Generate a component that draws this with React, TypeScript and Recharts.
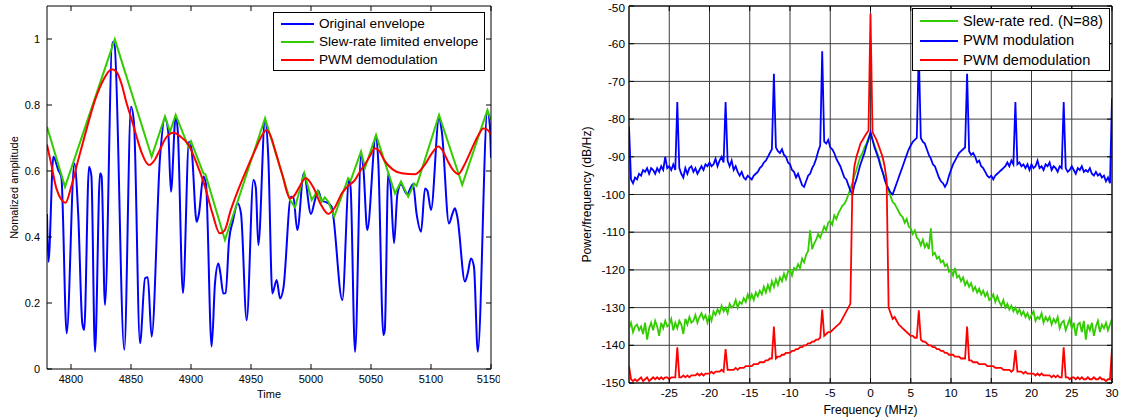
import { CartesianGrid, Legend, Line, LineChart, XAxis, YAxis } from 'recharts'

const FONT = '"Liberation Sans", Arial, sans-serif'
const BLUE = '#0000ff'
const GREEN = '#33cc00'
const RED = '#ff0000'

// ---- left panel: envelopes in time ----
const blueTime = [
  4780, 4781.2, 4785.3, 4789.4, 4792, 4796.4, 4802.8, 4806, 4809.4, 4811, 4815, 4817, 4820, 4824.2, 4825.5,
  4828.3, 4834.5, 4836.2, 4844.4, 4850, 4852.5, 4857.5, 4861.7, 4864, 4867.2, 4874.2, 4878.3, 4881, 4883.3,
  4887.2, 4889, 4893.3, 4898.3, 4900.5, 4904.7, 4906.6, 4910.3, 4912.5, 4917.2, 4920, 4922.8, 4924.5, 4926.9,
  4928.9, 4931.7, 4935, 4938.9, 4941.7, 4946.4, 4952, 4954, 4956.1, 4961.7, 4964.4, 4967.8, 4971.4, 4974.2,
  4977, 4983.3, 4985.3, 4988.6, 4994, 5000, 5003.3, 5006, 5009, 5013, 5017.2, 5026.1, 5031.7, 5033, 5036.7,
  5041.7, 5043.6, 5046.9, 5054, 5056, 5060.3, 5061.5, 5064.4, 5066.4, 5069.2, 5072, 5075, 5080, 5085, 5088,
  5091.7, 5095, 5097, 5100, 5106.7, 5109, 5115, 5117.8, 5120, 5122, 5128.3, 5130.6, 5133.3, 5135.8, 5139,
  5147, 5149, 5150,
]
const blueAmp = [
  0.47, 0.325, 0.643, 0.603, 0.58, 0.108, 0.623, 0.47, 0.139, 0.118, 0.613, 0.585, 0.052, 0.593, 0.585,
  0.194, 0.99, 0.985, 0.058, 0.795, 0.745, 0.078, 0.275, 0.278, 0.098, 0.643, 0.76, 0.72, 0.537,
  0.765, 0.72, 0.23, 0.689, 0.665, 0.446, 0.47, 0.583, 0.56, 0.068, 0.26, 0.32, 0.29, 0.229,
  0.23, 0.39, 0.45, 0.502, 0.47, 0.148, 0.573, 0.55, 0.376, 0.755, 0.643, 0.229, 0.27, 0.214,
  0.245, 0.522, 0.52, 0.421, 0.593, 0.47, 0.512, 0.54, 0.51, 0.505, 0.492, 0.209, 0.573, 0.55, 0.052,
  0.648, 0.61, 0.421, 0.704, 0.633, 0.103, 0.118, 0.593, 0.55, 0.381, 0.53, 0.56, 0.53, 0.56, 0.47,
  0.416, 0.547, 0.54, 0.482, 0.76, 0.72, 0.441, 0.47, 0.487, 0.46, 0.265, 0.29, 0.335, 0.31, 0.052,
  0.78, 0.74, 0.64,
]

const greenTime = [
  4780, 4795, 4836.5, 4867.2, 4878.3, 4882.5, 4887.2, 4897.8, 4900, 4910.3, 4912, 4928.3, 4961.7, 4982.5,
  4986.7, 4994.4, 5000.6, 5005.5, 5008.9, 5011.5, 5014.4, 5019.4, 5031, 5033, 5041.7, 5045, 5054.2, 5070,
  5075, 5081, 5086, 5088, 5106.7, 5126, 5147, 5150,
]
const greenAmp = [
  0.734, 0.552, 0.999, 0.643, 0.765, 0.719, 0.77, 0.674, 0.69, 0.593, 0.59, 0.391, 0.76, 0.512,
  0.49, 0.593, 0.512, 0.54, 0.507, 0.52, 0.507, 0.462, 0.578, 0.57, 0.659, 0.61, 0.709, 0.532,
  0.568, 0.522, 0.562, 0.555, 0.77, 0.558, 0.785, 0.755,
]

const redTime = [
  4780, 4783, 4788, 4795.5, 4800, 4806, 4812, 4820, 4827, 4834, 4838, 4842, 4846, 4850.6, 4855, 4859, 4865,
  4870, 4874, 4879, 4885.3, 4891, 4897.8, 4904, 4911.7, 4918, 4924, 4928, 4933, 4939, 4945, 4953, 4958,
  4963, 4967, 4970, 4976, 4982.5, 4986, 4990, 4995.6, 5002, 5008, 5014.4, 5020, 5025.6, 5031, 5036.7,
  5041, 5045, 5049, 5053.3, 5057, 5061, 5068, 5075.6, 5086.7, 5095, 5101, 5106, 5110, 5114, 5118, 5122.8,
  5128, 5133.6, 5139, 5143.6, 5147, 5150,
]
const redAmp = [
  0.68, 0.63, 0.545, 0.504, 0.55, 0.633, 0.714, 0.815, 0.876, 0.908, 0.9, 0.865, 0.81, 0.755, 0.7, 0.654, 0.618,
  0.635, 0.664, 0.7, 0.716, 0.705, 0.68, 0.63, 0.552, 0.47, 0.411, 0.42, 0.48, 0.54, 0.593, 0.66, 0.7,
  0.724, 0.7, 0.664, 0.59, 0.517, 0.525, 0.55, 0.578, 0.55, 0.5, 0.47, 0.49, 0.532, 0.555, 0.573,
  0.6, 0.62, 0.645, 0.669, 0.66, 0.633, 0.605, 0.593, 0.59, 0.62, 0.655, 0.674, 0.66, 0.63, 0.605, 0.591,
  0.62, 0.664, 0.705, 0.729, 0.725, 0.71,
]

const timeTicks = [4800, 4850, 4900, 4950, 5000, 5050, 5100, 5150]
const ampTicks = [0, 0.2, 0.4, 0.6, 0.8, 1]

// ---- right panel: spectra, sampled every 0.25 MHz from -30 to 30 ----
const freqMHz = Array.from({ length: 241 }, (_, i) => -30 + i * 0.25)

const slewDb = [
  -135.5, -134, -136.5, -135, -134.5, -136, -135, -137, -134, -138.5, -135.5, -134, -136, -133.5, -135, -137.5,
  -134, -135.5, -133.5, -135, -134.5, -133, -136, -134, -135.5, -133.5, -134.5, -137, -133, -134.5, -132.5, -134,
  -133.5, -132, -134, -132.5, -131.5, -133, -132, -134, -132, -133.5, -131, -132, -130.5, -131.5, -129.5, -131,
  -130, -131.5, -129, -130, -129.5, -128, -130, -128.5, -129, -127.5, -128.5, -126.5, -128, -126.5, -128, -126,
  -127, -125.5, -126.5, -124.5, -126, -124, -125.5, -123, -124.5, -122.5, -124, -122, -123, -121, -122.5, -120.5,
  -120, -121.5, -119.5, -120, -118.5, -119.5, -117, -118, -116, -115, -109.5, -114.5, -113, -112, -110.5, -111.5,
  -110, -108.5, -109.5, -107.5, -107, -108, -105.5, -106.5, -105, -104, -103, -102.5, -101.5, -100, -98.5, -97,
  -95, -93.5, -91.5, -90, -89, -87.5, -86.5, -85, -83.8, -85.5, -87, -88.5, -90, -92, -94, -95.5,
  -97, -99, -100.5, -102, -102.5, -103.5, -104.5, -105.5, -106, -107.5, -106.5, -108.5, -109, -110.5, -109.5, -111.5,
  -112, -113.5, -112, -114, -113, -114.5, -109, -116, -115.5, -117, -116.5, -118, -117.5, -119, -118.5, -120.5,
  -120, -121.5, -119.5, -122, -121.5, -123, -122, -124, -123, -124.5, -123.5, -125.5, -124.5, -126, -125, -126.5,
  -125.5, -127, -126, -128, -127.5, -126.5, -128.5, -127, -128.5, -129.5, -128, -130, -129, -130.5, -129.5, -131,
  -130, -131.5, -130.5, -132, -131, -132.5, -131.5, -133, -132, -131, -133.5, -132.5, -133, -131.5, -134, -132.5,
  -133.5, -132.5, -134.5, -133, -134, -132.5, -135.5, -134, -133.5, -136, -134.5, -133, -135.5, -134, -137.5, -134.5,
  -134, -136.5, -133.5, -138.5, -134.5, -136, -134, -137.5, -135, -133.5, -136.5, -134.5, -135.5, -134, -136, -134.5,
  -133,
]

const pwmDb = [
  -82, -96, -97, -95.5, -96, -94.5, -95, -93.5, -94, -93, -94.5, -93, -93.5, -94.5, -93, -94,
  -92.5, -93.5, -90, -93, -92.5, -93.5, -92, -93.5, -75.5, -93, -94.5, -95.5, -93, -94.5, -93, -92.5,
  -94, -93, -94.5, -93.5, -92.5, -93.5, -92, -92.5, -91.5, -92.5, -92, -90.5, -92.5, -91, -90, -91.5,
  -75.5, -91, -92.5, -91, -93.5, -92.5, -94, -95, -94, -95.5, -96, -95, -95.5, -96, -95, -94.5,
  -94, -93, -92.5, -91.5, -91, -90, -89, -88, -68, -87.5, -88.5, -89, -88, -89.5, -90, -91.5,
  -92, -93.5, -94, -95.5, -94.5, -96, -97.5, -98, -96.5, -95, -94.5, -93, -92, -90.5, -88.5, -87,
  -62, -86, -86.5, -85.5, -87.5, -88, -89, -90.5, -91.5, -92.5, -94, -95.5, -96, -97.5, -99, -100,
  -97.5, -96, -94, -92, -90.5, -89, -87, -85.5, -83.5, -85.5, -87.5, -89, -90.5, -92.5, -94, -96,
  -97.5, -98.5, -99.5, -100, -98.5, -97, -95.5, -94, -92.5, -91, -89.5, -88, -87, -86, -85.5, -85,
  -62, -85, -86, -86.5, -88, -89.5, -90.5, -92, -92.5, -94, -95.5, -96.5, -97, -98, -97, -95,
  -93.5, -92, -91, -90, -89, -88.5, -88, -87.5, -68, -88.5, -89.5, -89, -90, -91.5, -91, -92.5,
  -93, -94, -95, -95.5, -95, -96, -95, -94.5, -94, -93.5, -93, -92.5, -91.5, -92.5, -91, -92,
  -75.5, -92, -91.5, -92.5, -92, -93, -92, -93.5, -92, -93, -92.5, -91, -93, -92.5, -93.5, -92,
  -92.5, -91.5, -93.5, -92.5, -93, -94, -92.5, -93, -75.5, -93, -94, -93.5, -92.5, -93.5, -94.5, -93,
  -93.5, -92.5, -94, -93.5, -94, -93, -94.5, -95, -94, -95, -94.5, -95.5, -95, -96.5, -95.5, -97,
  -74.5,
]

const demodDb = [
  -145.5, -149, -149.5, -149, -149.5, -149, -148.5, -149.5, -149, -148.5, -149.5, -149, -148.5, -149, -148.5, -149,
  -148.5, -149, -148.5, -148.5, -149, -148.5, -148.5, -148.5, -140.5, -148.5, -148.5, -148, -148.5, -148, -148.5, -148,
  -148, -148, -147.5, -148, -147.5, -148, -147.5, -147.5, -147.5, -147, -147.5, -147, -147, -147, -146.5, -147,
  -141, -146.5, -146.5, -146.5, -146.5, -146, -146.5, -146, -146, -146, -145.5, -145.5, -145.5, -145.5, -145, -145,
  -145, -144.5, -144.5, -144.5, -144, -144, -143.5, -143.5, -135, -143.5, -143, -143, -142.5, -142.5, -142, -142,
  -142, -141.5, -141.5, -141, -141, -140.5, -140.5, -140, -140, -139.5, -139.5, -139, -139, -138.5, -138.5, -138,
  -130.5, -137.5, -137, -136.5, -136.5, -136, -135.5, -135, -134.5, -134, -133, -132, -131, -130, -129, -98,
  -92.5, -90, -88.3, -86.5, -85.6, -84.7, -83.8, -83, -52, -83.5, -84.5, -85.5, -87, -88.5, -90, -92.5,
  -96, -130, -131.5, -133, -132.5, -133.5, -134.5, -135, -135.5, -136, -136.5, -137, -137.5, -137.5, -138, -138,
  -130.7, -138.5, -139, -139, -139.5, -140, -140, -140.5, -140.5, -141, -141, -141.5, -141.5, -142, -142, -142.5,
  -142.5, -142.5, -143, -143, -143, -143.5, -143.5, -143.5, -135, -144, -144, -144.5, -144.5, -144.5, -145, -145,
  -145, -145, -145.5, -145.5, -145.5, -145.5, -146, -146, -146, -146, -146.5, -146.5, -146.5, -146.5, -147, -146.5,
  -141.3, -147, -147, -147, -147.5, -147, -147.5, -147.5, -147.5, -147.5, -148, -147.5, -148, -147.5, -148, -148,
  -148, -148, -148.5, -148, -148.5, -148, -148.5, -148.5, -140.5, -148.5, -148.5, -149, -148.5, -148.5, -149, -148.5,
  -149, -148.5, -149, -149, -148.5, -149, -149, -148.5, -149, -149, -148.5, -149, -149, -149.5, -149, -149,
  -140.8,
]

const freqTicks = [-25, -20, -15, -10, -5, 0, 5, 10, 15, 20, 25, 30]
const dbTicks = [-150, -140, -130, -120, -110, -100, -90, -80, -70, -60, -50]

const blueData = blueTime.map((t, i) => ({ t, v: blueAmp[i] }))
const greenData = greenTime.map((t, i) => ({ t, v: greenAmp[i] }))
const redData = redTime.map((t, i) => ({ t, v: redAmp[i] }))
const spectrum = freqMHz.map((f, i) => ({ f, slew: slewDb[i], pwm: pwmDb[i], demod: demodDb[i] }))

const black = { stroke: '#000', strokeWidth: 1 }
const blank = () => ''

interface LegendItem {
  label: string
  color: string
}

function LegendBox({ items, rowH, padTop, lineLeft, lineLen, gap, fontSize }: {
  items: LegendItem[]; rowH: number; padTop: number; lineLeft: number; lineLen: number; gap: number; fontSize: number
}) {
  return (
    <div style={{ width: '100%', height: '100%', boxSizing: 'border-box', border: '1px solid #000', background: '#fff', paddingTop: padTop, fontFamily: FONT }}>
      {items.map((it) => (
        <div key={it.label} style={{ height: rowH, display: 'flex', alignItems: 'center', paddingLeft: lineLeft }}>
          <div style={{ width: lineLen, height: 2, background: it.color, marginRight: gap }} />
          <span style={{ fontSize, color: '#000', whiteSpace: 'nowrap', lineHeight: 1 }}>{it.label}</span>
        </div>
      ))}
    </div>
  )
}

const leftLegend: LegendItem[] = [
  { label: 'Original envelope', color: BLUE },
  { label: 'Slew-rate limited envelope', color: GREEN },
  { label: 'PWM demodulation', color: RED },
]
const rightLegend: LegendItem[] = [
  { label: 'Slew-rate red. (N=88)', color: GREEN },
  { label: 'PWM modulation', color: BLUE },
  { label: 'PWM demodulation', color: RED },
]

function EnvelopeChart() {
  const tick = { fontSize: 11, fill: '#000', fontFamily: FONT }
  const label = { fontSize: 11, fill: '#000', fontFamily: FONT }
  return (
    <LineChart width={500} height={400} margin={{ top: 0, right: 0, bottom: 0, left: 0 }}>
      <XAxis type="number" dataKey="t" domain={[4780, 5150]} ticks={timeTicks} allowDataOverflow height={31}
        tickSize={-5} tickMargin={11} tick={tick} axisLine={black} tickLine={black}
        label={{ value: 'Time', position: 'insideBottom', offset: 2, style: label }} />
      <XAxis xAxisId="top" orientation="top" type="number" dataKey="t" domain={[4780, 5150]} ticks={timeTicks}
        allowDataOverflow height={6} tickSize={-5} tickFormatter={blank} axisLine={black} tickLine={black} />
      <YAxis type="number" domain={[0, 1.1]} ticks={ampTicks} allowDataOverflow width={47}
        tickSize={-5} tickMargin={12} tick={tick} axisLine={black} tickLine={black}
        label={{ value: 'Nomalized amplitude', angle: -90, position: 'insideLeft', offset: 14, style: { ...label, textAnchor: 'middle' } }} />
      <YAxis yAxisId="right" orientation="right" type="number" domain={[0, 1.1]} ticks={ampTicks} allowDataOverflow
        width={9} tickSize={-5} tickFormatter={blank} axisLine={black} tickLine={black} />
      <Legend layout="horizontal" verticalAlign="middle" align="center"
        wrapperStyle={{ left: 273, top: 12, width: 212, height: 59 }}
        content={() => <LegendBox items={leftLegend} rowH={18} padTop={2} lineLeft={7} lineLen={33} gap={5} fontSize={13.6} />} />
      <Line data={blueData} dataKey="v" name="Original envelope" type="monotone" stroke={BLUE} strokeWidth={2} dot={false} activeDot={false} isAnimationActive={false} />
      <Line data={greenData} dataKey="v" name="Slew-rate limited envelope" type="linear" stroke={GREEN} strokeWidth={2} dot={false} activeDot={false} isAnimationActive={false} />
      <Line data={redData} dataKey="v" name="PWM demodulation" type="monotone" stroke={RED} strokeWidth={2} dot={false} activeDot={false} isAnimationActive={false} />
    </LineChart>
  )
}

function SpectrumChart() {
  const tick = { fontSize: 11.8, fill: '#000', fontFamily: FONT }
  const label = { fontSize: 12.2, fill: '#000', fontFamily: FONT }
  return (
    <LineChart width={562} height={419} data={spectrum} margin={{ top: 0, right: 0, bottom: 0, left: 0 }}>
      <CartesianGrid stroke="#3c3c3c" strokeWidth={1} />
      <XAxis type="number" dataKey="f" domain={[-30, 30]} ticks={freqTicks} allowDataOverflow height={36}
        tickSize={-5} tickMargin={11} tick={tick} axisLine={black} tickLine={black}
        label={{ value: 'Frequency (MHz)', position: 'insideBottom', offset: 5, style: label }} />
      <XAxis xAxisId="top" orientation="top" type="number" dataKey="f" domain={[-30, 30]} ticks={freqTicks}
        allowDataOverflow height={6} tickSize={-5} tickFormatter={blank} axisLine={black} tickLine={black} />
      <YAxis type="number" domain={[-150, -50]} ticks={dbTicks} allowDataOverflow width={69}
        tickSize={-5} tickMargin={9} tick={tick} axisLine={black} tickLine={black}
        label={{ value: 'Power/frequency (dB/Hz)', angle: -90, position: 'insideLeft', offset: 27, style: { ...label, textAnchor: 'middle' } }} />
      <YAxis yAxisId="right" orientation="right" type="number" domain={[-150, -50]} ticks={dbTicks} allowDataOverflow
        width={10} tickSize={-5} tickFormatter={blank} axisLine={black} tickLine={black} />
      <Legend layout="horizontal" verticalAlign="middle" align="center"
        wrapperStyle={{ left: 352, top: 8, width: 198, height: 63 }}
        content={() => <LegendBox items={rightLegend} rowH={19.7} padTop={2} lineLeft={7} lineLen={38} gap={5} fontSize={14.6} />} />
      <Line dataKey="slew" name="Slew-rate red. (N=88)" type="linear" stroke={GREEN} strokeWidth={1.8} dot={false} activeDot={false} isAnimationActive={false} />
      <Line dataKey="pwm" name="PWM modulation" type="linear" stroke={BLUE} strokeWidth={1.8} dot={false} activeDot={false} isAnimationActive={false} />
      <Line dataKey="demod" name="PWM demodulation" type="linear" stroke={RED} strokeWidth={1.8} dot={false} activeDot={false} isAnimationActive={false} />
    </LineChart>
  )
}

export default function App() {
  return (
    <div style={{ position: 'absolute', left: 0, top: 0, width: 1122, height: 419, background: '#fff', fontFamily: FONT }}>
      <div style={{ position: 'absolute', left: 0, top: 0 }}>
        <EnvelopeChart />
      </div>
      <div style={{ position: 'absolute', left: 560, top: 0 }}>
        <SpectrumChart />
      </div>
    </div>
  )
}
